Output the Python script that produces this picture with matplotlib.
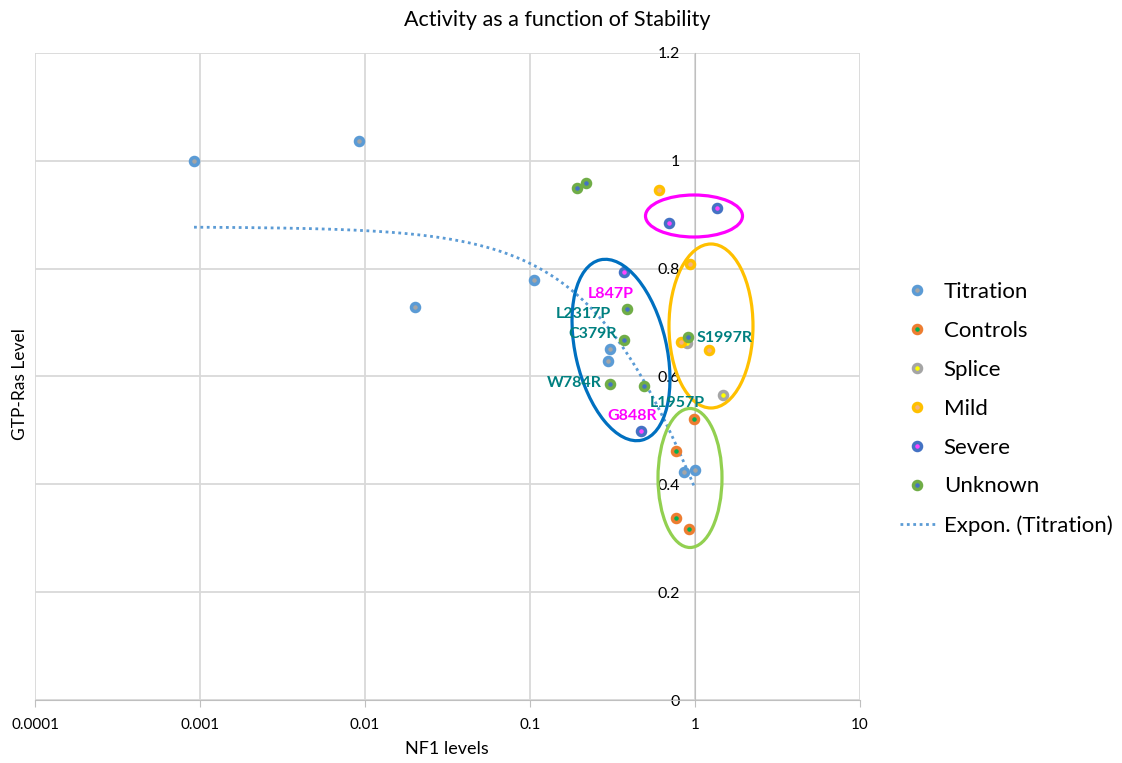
import numpy as np
import matplotlib.pyplot as plt
from matplotlib.patches import Ellipse
from matplotlib.lines import Line2D
from matplotlib.ticker import NullLocator
from matplotlib.transforms import Affine2D

plt.rcParams['font.family'] = ['Lato', 'DejaVu Sans']

# NF1 level (x) vs GTP-Ras level (y) for each group
titration_x = [0.00092, 0.0092, 0.0201, 0.106, 0.306, 0.298, 0.857, 1.0]
titration_y = [1.0, 1.037, 0.729, 0.779, 0.651, 0.629, 0.423, 0.427]
controls_x = [0.986, 0.767, 0.767, 0.920]
controls_y = [0.521, 0.462, 0.338, 0.317]
splice_x = [1.48, 0.90]
splice_y = [0.566, 0.662]
mild_x = [0.605, 0.933, 0.823, 1.216]
mild_y = [0.946, 0.809, 0.664, 0.649]
severe_x = [0.695, 1.36, 0.371, 0.471]
severe_y = [0.885, 0.913, 0.794, 0.499]
unknown_x = [0.193, 0.218, 0.387, 0.371, 0.911, 0.306, 0.491]
unknown_y = [0.950, 0.959, 0.725, 0.668, 0.673, 0.586, 0.583]

# variant labels
label_text = ['L847P', 'L2317P', 'C379R', 'S1997R', 'W784R', 'L1957P', 'G848R']
label_x = [0.427, 0.309, 0.337, 1.028, 0.273, 0.533, 0.589]
label_y = [0.753, 0.716, 0.679, 0.672, 0.588, 0.551, 0.527]
label_ha = ['right', 'right', 'right', 'left', 'right', 'left', 'right']
label_col = ['#FF00FF', '#008080', '#008080', '#008080', '#008080', '#008080', '#FF00FF']

x_ticks = [0.0001, 0.001, 0.01, 0.1, 1, 10]
x_ticklabels = ['0.0001', '0.001', '0.01', '0.1', '1', '10']
y_ticks = [0, 0.2, 0.4, 0.6, 0.8, 1.0, 1.2]
y_ticklabels = ['0', '0.2', '0.4', '0.6', '0.8', '1', '1.2']

fig = plt.figure(figsize=(11.22, 7.63), dpi=100)
ax = fig.add_axes([35/1122, 63/763, 825/1122, 647/763])
ax.set_xscale('log')
ax.set_xlim(1e-4, 10)
ax.set_ylim(0, 1.2)

# exponential trendline fitted to titration points (like Excel's)
b, lna = np.polyfit(titration_x, np.log(titration_y), 1)
tx = np.logspace(np.log10(min(titration_x)), np.log10(max(titration_x)), 300)
ax.plot(tx, np.exp(lna) * np.exp(b * tx), color='#5B9BD5', lw=2,
        linestyle=(0, (1, 1.3)), zorder=2)

series = [
    ('Titration', titration_x, titration_y, '#5B9BD5', '#A5A5A5'),
    ('Controls', controls_x, controls_y, '#ED7D31', '#00B050'),
    ('Splice', splice_x, splice_y, '#A5A5A5', '#FFFF00'),
    ('Mild', mild_x, mild_y, '#FFC000', '#F4B183'),
    ('Severe', severe_x, severe_y, '#4472C4', '#FF44FF'),
    ('Unknown', unknown_x, unknown_y, '#70AD47', '#4472C4'),
]
handles = []
for name, xs, ys, edge, face in series:
    ax.scatter(xs, ys, s=5.8**2, facecolor=face, edgecolor=edge,
               linewidths=2.5, zorder=3)
    handles.append(Line2D([], [], ls='none', marker='o', ms=5.8, mew=2.5,
                          mfc=face, mec=edge, label=name))
handles.append(Line2D([], [], color='#5B9BD5', lw=2, linestyle=(0, (1, 1.3)),
                      label='Expon. (Titration)'))

for t, lx, ly, ha, c in zip(label_text, label_x, label_y, label_ha, label_col):
    ax.text(lx, ly, t, ha=ha, va='center', color=c, fontsize=11.5,
            fontweight='bold', zorder=5)

# hand-drawn highlight ellipses (axes pixel units)
px = Affine2D().scale(1/825, 1/647) + ax.transAxes
ellipses = [((659, 484), 97, 42, 0, '#FF00FF'),
            ((676, 374), 84, 164, 0, '#FFC000'),
            ((655, 222), 64, 139, 0, '#92D050'),
            ((586, 350), 91, 185, 13, '#0070C0')]
for c, w, h, ang, col in ellipses:
    ax.add_patch(Ellipse(c, w, h, angle=ang, fill=False, edgecolor=col,
                         lw=2.3, transform=px, zorder=4))

ax.set_xticks(x_ticks)
ax.set_xticklabels(x_ticklabels)
ax.xaxis.set_minor_locator(NullLocator())
ax.set_yticks(y_ticks)
ax.set_yticklabels(y_ticklabels)
ax.grid(True, color='#D9D9D9', lw=1.3, zorder=0)
ax.set_axisbelow(True)
for s in ['top', 'right']:
    ax.spines[s].set_visible(False)
ax.spines['left'].set_position(('data', 1))
ax.spines['left'].set_color('#BFBFBF')
ax.spines['bottom'].set_color('#BFBFBF')
ax.tick_params(axis='x', direction='out', length=5, color='#BFBFBF',
               labelsize=11, pad=8)
ax.tick_params(axis='y', length=0, labelsize=11.5, pad=11)

fig.text(557/1122, 1 - 20/763, 'Activity as a function of Stability',
         ha='center', va='center', fontsize=15.5)
fig.text(447/1122, 1 - 749/763, 'NF1 levels', ha='center', va='center', fontsize=13)
fig.text(20/1122, 1 - 384/763, 'GTP-Ras Level', ha='center', va='center',
         rotation=90, fontsize=12.5)

fig.legend(handles=handles, loc='upper left', bbox_to_anchor=(900/1122, 1 - 282/763),
           frameon=False, fontsize=16, labelspacing=0.85, handlelength=1.57,
           handletextpad=0.4, borderpad=0, borderaxespad=0)

fig.savefig('out.png', dpi=100)
